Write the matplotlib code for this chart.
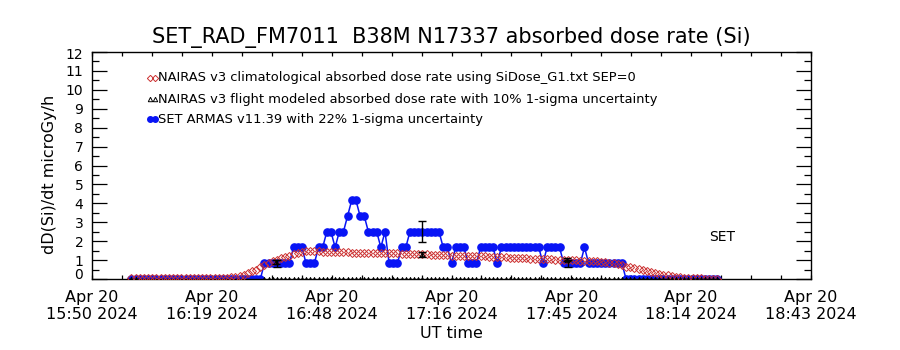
import numpy as np
import matplotlib
matplotlib.use("Agg")
import matplotlib.pyplot as plt
from matplotlib.transforms import blended_transform_factory

plt.rcParams['font.family'] = ['DejaVu Sans']

title = "SET_RAD_FM7011  B38M N17337 absorbed dose rate (Si)"
ylabel = "dD(Si)/dt microGy/h"
xlabel = "UT time"
legend_labels = [
    "NAIRAS v3 climatological absorbed dose rate using SiDose_G1.txt SEP=0",
    "NAIRAS v3 flight modeled absorbed dose rate with 10% 1-sigma uncertainty",
    "SET ARMAS v11.39 with 22% 1-sigma uncertainty",
]

# time axis: minutes after 15:50 UT, 2024-04-20
x_range = [0.0, 173.0]
x_tick_labels = ["Apr 20\n15:50 2024", "Apr 20\n16:19 2024", "Apr 20\n16:48 2024",
                 "Apr 20\n17:16 2024", "Apr 20\n17:45 2024", "Apr 20\n18:14 2024",
                 "Apr 20\n18:43 2024"]
y_tick_labels = ["0", "1", "2", "3", "4", "5", "6", "7", "8", "9", "10", "11", "12"]

# 1-minute samples starting at minute 9.5
sample_start = 9.5
set_values = (
    [0.0] * 32 +
    [0.83, 0.83, 0.83, 0.83, 0.83, 0.83, 0.83,
     1.67, 1.67, 1.67,
     0.83, 0.83, 0.83,
     1.67, 1.67,
     2.5, 2.5,
     1.67,
     2.5, 2.5,
     3.33,
     4.17, 4.17,
     3.33, 3.33,
     2.5, 2.5, 2.5,
     1.67,
     2.5,
     0.83, 0.83, 0.83,
     1.67, 1.67,
     2.5, 2.5, 2.5, 2.5, 2.5, 2.5, 2.5, 2.5,
     1.67, 1.67,
     0.83,
     1.67, 1.67, 1.67,
     0.83, 0.83, 0.83,
     1.67, 1.67, 1.67, 1.67,
     0.83,
     1.67, 1.67, 1.67, 1.67, 1.67, 1.67, 1.67, 1.67, 1.67, 1.67,
     0.83,
     1.67, 1.67, 1.67, 1.67,
     0.83, 0.83, 0.83, 0.83, 0.83,
     1.67,
     0.83, 0.83, 0.83, 0.83, 0.83, 0.83, 0.83, 0.83, 0.83] +
    [0.0] * 23
)
clim_values = (
    [0.05] * 23 +
    [0.06, 0.08, 0.11, 0.16, 0.23, 0.31, 0.40, 0.50, 0.62, 0.74,
     0.86, 0.95, 1.02, 1.09, 1.16, 1.22, 1.30, 1.37, 1.43, 1.47,
     1.49, 1.48, 1.46, 1.45, 1.44, 1.44, 1.43, 1.42, 1.41, 1.41,
     1.40, 1.40, 1.39, 1.39, 1.38, 1.38, 1.37, 1.37, 1.36, 1.36,
     1.35, 1.35, 1.34, 1.33, 1.33, 1.32, 1.31, 1.30, 1.30, 1.29,
     1.28, 1.27, 1.26, 1.25, 1.24, 1.24, 1.23, 1.23, 1.22, 1.22,
     1.21, 1.20, 1.19, 1.18, 1.17, 1.16, 1.15, 1.14, 1.13, 1.12,
     1.11, 1.10, 1.09, 1.08, 1.07, 1.06, 1.06, 1.05, 1.04, 1.03,
     1.02, 1.01, 1.00, 0.99, 0.98, 0.97, 0.96, 0.95, 0.94, 0.93,
     0.91, 0.89, 0.87, 0.84, 0.80, 0.72, 0.66, 0.61, 0.56, 0.52,
     0.47, 0.42, 0.37, 0.32, 0.27, 0.23, 0.19, 0.16, 0.12, 0.08,
     0.06, 0.05, 0.04, 0.03, 0.03, 0.02, 0.02, 0.02, 0.02]
)

# flight-modeled points (triangles); zeros where no model value
flight_zero_times = [9.5, 10.5] + [41.5 + i for i in range(110)]
flight_zero_values = [0.0] * len(flight_zero_times)
flight_times = [44.3, 79.4, 114.2]
flight_values = [0.90, 1.30, 1.03]
flight_err_frac = 0.10

set_err_times = [44.5, 79.5, 114.5]
set_err_frac = 0.22

set_label_pos = (151.6, 2.2)

BLUE = '#0814f5'
RED = '#cc3030'

fig = plt.figure(figsize=(9, 3.5), dpi=100)
ax = fig.add_axes([92/900, 1-279/350, (811-92)/900, (279-52)/350])

set_t = sample_start + np.arange(len(set_values))
clim_t = sample_start + np.arange(len(clim_values))

ax.plot(set_t, set_values, '-o', color=BLUE, lw=1.1, ms=5.2, mec=BLUE, mfc=BLUE, zorder=2)
ax.plot(clim_t, clim_values, 'D', color=RED, ms=3.6, mfc='none', mec=RED, mew=0.7, zorder=3)
ax.plot(flight_zero_times, flight_zero_values, '^', color='black', ms=3.2, mfc='black', mew=0.5, zorder=4)
ax.plot(flight_times, flight_values, '^', color='black', ms=3.2, mfc='none', mew=0.7, zorder=4)
ax.errorbar(flight_times, flight_values, yerr=[v*flight_err_frac for v in flight_values],
            fmt='none', ecolor='black', elinewidth=1.0, capsize=3.2, capthick=1.0, zorder=5)
set_err_vals = [set_values[int(round(t - sample_start))] for t in set_err_times]
ax.errorbar(set_err_times, set_err_vals, yerr=[v*set_err_frac for v in set_err_vals],
            fmt='none', ecolor='black', elinewidth=1.0, capsize=3.2, capthick=1.0, zorder=5)

ax.set_xlim(*x_range)
ax.set_ylim(0, 12)

for s in ax.spines.values():
    s.set_linewidth(1.0)

# x ticks: 24 intervals, label every 4th
xt = np.linspace(x_range[0], x_range[1], 25)
ax.set_xticks(xt)
ax.set_xticklabels([x_tick_labels[i//4] if i % 4 == 0 else '' for i in range(25)], fontsize=11.5,
                   linespacing=1.15)
ax.tick_params(axis='x', which='major', direction='in', length=3, width=0.9, top=True, pad=8)

# y ticks
ax.set_yticks(range(13))
ax.set_yticks(np.arange(0.5, 12, 1.0), minor=True)
ax.set_yticklabels([])
ax.tick_params(axis='y', which='major', direction='in', length=10.5, width=0.9, right=True)
ax.tick_params(axis='y', which='minor', direction='in', length=5, width=0.9, right=True)
ytr = blended_transform_factory(ax.transAxes, ax.transData)
for k, lab in enumerate(y_tick_labels):
    va = 'center_baseline'
    yk = k
    if k == 0:
        va = 'bottom'
        yk = -0.15
    elif k == len(y_tick_labels) - 1:
        va = 'top'
        yk = 12.2
    ax.text(-0.012, yk, lab, transform=ytr, ha='right', va=va, fontsize=10, clip_on=False)

fig.text(451/900, 1-37/350, title, ha='center', va='center', fontsize=15)
fig.text(50/900, 1-174/350, ylabel, ha='center', va='center', rotation=90, fontsize=11.5)
fig.text(451/900, 1-333/350, xlabel, ha='center', va='center', fontsize=11.5)

ax.text(set_label_pos[0], set_label_pos[1], "SET", ha='center', va='center', fontsize=10)

# legend (manual)
rows_py = [78, 99, 119]
def px2ax(px, py):
    return ((px-92)/(811-92), (279-py)/(279-52))
for i, (lab, py) in enumerate(zip(legend_labels, rows_py)):
    x0, y0 = px2ax(158, py)
    ax.text(x0, y0, lab, transform=ax.transAxes, ha='left', va='center', fontsize=9.4)
    xa, _ = px2ax(150, py)
    xb, _ = px2ax(155, py)
    if i == 0:
        ax.plot([xa, xb], [y0, y0], 'D', color=RED, ms=3.2, mfc='none', mew=0.7, transform=ax.transAxes, clip_on=False)
    elif i == 1:
        ax.plot([xa, xb], [y0, y0], '^', color='black', ms=3.2, mfc='none', mew=0.7, transform=ax.transAxes, clip_on=False)
    else:
        ax.plot([xa, xb], [y0, y0], '-o', color=BLUE, ms=4, lw=1.5, transform=ax.transAxes, clip_on=False)

fig.savefig("out.png", dpi=100)
